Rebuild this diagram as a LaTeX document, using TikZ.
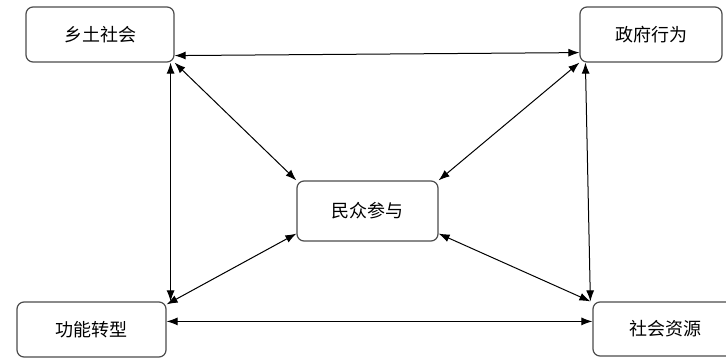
\documentclass[tikz,border=0pt]{standalone}
\usepackage{fontspec}
\newfontfamily\cjk{Noto Sans CJK SC}
\usetikzlibrary{arrows.meta,calc}
\tikzset{
  box/.style={draw=black!70, line width=1.2pt, rounded corners=7pt, fill=white,
    font=\cjk\fontsize{18}{18}\selectfont, inner sep=0pt},
  link/.style={line width=1pt, {Latex[length=11pt,width=8pt]}-{Latex[length=11pt,width=8pt]}}
}
\begin{document}
\begin{tikzpicture}[x=1pt,y=-1pt]
  \useasboundingbox (0,0) rectangle (726,358);
  \fill[white] (0,0) rectangle (726,358);
  \clip (0,0) rectangle (726,358);
  % five boxes
  \node[box, minimum width=148pt, minimum height=55pt] (xt) at (100,34.5) {\raisebox{-4pt}{乡土社会}};
  \node[box, minimum width=142pt, minimum height=55pt] (zf) at (651,34.5) {\raisebox{-4pt}{政府行为}};
  \node[box, minimum width=141pt, minimum height=60pt] (mz) at (367.5,211) {\raisebox{-2pt}{民众参与}};
  \node[box, minimum width=149pt, minimum height=55pt] (gn) at (91.5,329.5) {\raisebox{-4pt}{功能转型}};
  \node[box, minimum width=145pt, minimum height=54pt] (sh) at (665.5,329) {\raisebox{-4pt}{社会资源}};
  % outer ring
  \draw[link] ($(xt.south east)+(0,-7)$) -- ($(zf.south west)+(0,-10)$);
  \draw[link] ($(xt.south east)+(-4,0)$) -- ($(gn.north east)+(4,0)$);
  \draw[link] ($(zf.south west)+(6,0)$) -- ($(sh.north west)+(-2,0)$);
  \draw[link] ($(gn.north east)+(0,20)$) -- ($(sh.north west)+(0,20)$);
  % spokes to the centre
  \draw[link] (xt.south east) -- (mz.north west);
  \draw[link] (zf.south west) -- (mz.north east);
  \draw[link] ($(gn.north east)+(0,3)$) -- ($(mz.south west)+(0,-8)$);
  \draw[link] ($(sh.north west)+(-2,0)$) -- ($(mz.south east)+(0,-8)$);
\end{tikzpicture}
\end{document}
